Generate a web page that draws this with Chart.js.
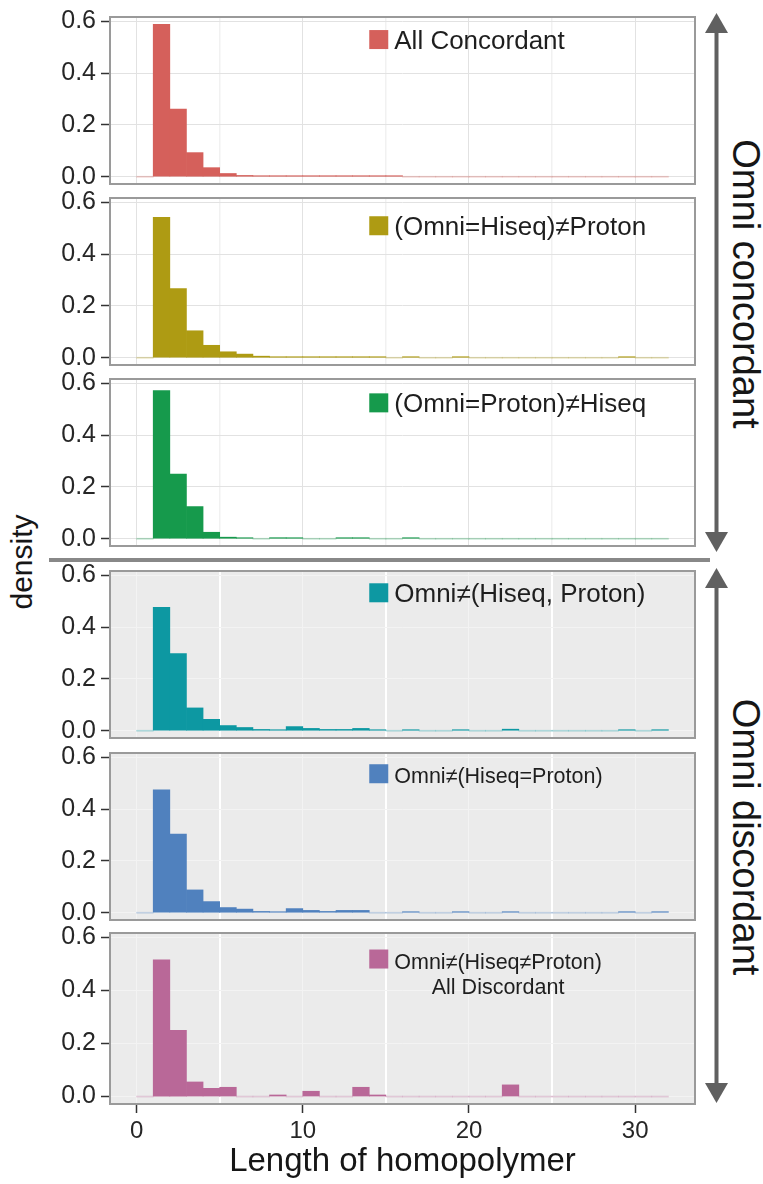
<!DOCTYPE html>
<html lang="en">
<head>
<meta charset="UTF-8">
<title>Length of homopolymer - density by concordance class</title>
<script src="https://cdn.jsdelivr.net/npm/chart.js"></script>
<style>
  body { margin: 0; background: #fff; font-family: "Liberation Sans", Arial, sans-serif; }
  #wrap { position: relative; width: 763px; height: 1184px; overflow: hidden; }
  #wrap canvas { position: absolute; left: 0; }
  .side { position: absolute; white-space: nowrap; line-height: 1; color: #161616;
          transform: translate(-50%, -50%) rotate(90deg); }
  #ylab { position: absolute; left: 22px; top: 562px; font-size: 30px; line-height: 1; color: #161616;
          white-space: nowrap; transform: translate(-50%, -50%) rotate(-90deg); }
  #sep { position: absolute; left: 49px; top: 558px; width: 661px; height: 4px; background: #888; }
  svg { position: absolute; left: 0; top: 0; }
</style>
</head>
<body>
<div id="wrap">
  <div id="sep"></div>
  <svg width="763" height="1184">
    <g fill="#606060" stroke="#606060">
      <line x1="716.5" y1="30" x2="716.5" y2="536" stroke-width="4"/>
      <polygon points="716.5,13 705,33 728,33" stroke="none"/>
      <polygon points="716.5,552 705,532 728,532" stroke="none"/>
      <line x1="716.5" y1="585" x2="716.5" y2="1087" stroke-width="4"/>
      <polygon points="716.5,568 705,588 728,588" stroke="none"/>
      <polygon points="716.5,1103 705,1083 728,1083" stroke="none"/>
    </g>
  </svg>
  <div class="side" style="left:746px; top:284px; font-size:38px;">Omni concordant</div>
  <div class="side" style="left:746px; top:837px; font-size:38px;">Omni discordant</div>
  <div id="ylab">density</div>
</div>

<script>
    // histogram bins: left edge of each 1-wide bin
    const binLeft = [0, 1, 2, 3, 4, 5, 6, 7, 8, 9, 10, 11, 12, 13, 14, 15,
                     16, 17, 18, 19, 20, 21, 22, 23, 24, 25, 26, 27, 28, 29, 30, 31];

    // density per bin, one array per facet
    const allConcordant = [0, 0.588, 0.261, 0.093, 0.035, 0.0125, 0.005, 0.002, 0.001, 0.001, 0.0008, 0.0006, 0.0005, 0.0004, 0.0003, 0.0003,
                           0, 0, 0, 0, 0, 0, 0, 0, 0, 0, 0, 0, 0, 0, 0, 0];
    const omniHiseqVsProton = [0, 0.541, 0.267, 0.104, 0.048, 0.023, 0.014, 0.006, 0.0025, 0.002, 0.0015, 0.001, 0.001, 0.001, 0.001, 0,
                               0.001, 0, 0, 0.001, 0, 0, 0, 0, 0, 0, 0, 0, 0, 0.001, 0, 0];
    const omniProtonVsHiseq = [0, 0.571, 0.249, 0.124, 0.025, 0.006, 0.003, 0, 0.004, 0.001, 0, 0, 0.001, 0.001, 0, 0,
                               0.001, 0, 0, 0, 0, 0, 0, 0, 0, 0, 0, 0, 0, 0, 0, 0];
    const omniVsBoth = [0, 0.476, 0.298, 0.088, 0.044, 0.02, 0.0125, 0.005, 0.0015, 0.016, 0.009, 0.005, 0.005, 0.009, 0.0015, 0,
                        0.002, 0, 0, 0.002, 0, 0, 0.006, 0, 0, 0, 0, 0, 0, 0.002, 0, 0.002];
    const omniVsAgree = [0, 0.474, 0.303, 0.088, 0.043, 0.02, 0.014, 0.005, 0.0015, 0.016, 0.009, 0.005, 0.009, 0.009, 0, 0,
                         0.002, 0, 0, 0.002, 0, 0, 0.002, 0, 0, 0, 0, 0, 0, 0.002, 0, 0.002];
    const allDiscordant = [0, 0.515, 0.249, 0.055, 0.031, 0.035, 0, 0, 0.006, 0, 0.02, 0, 0, 0.035, 0.006, 0,
                           0, 0, 0, 0, 0, 0, 0.044, 0, 0, 0, 0, 0, 0, 0, 0, 0];

    const seriesList = [allConcordant, omniHiseqVsProton, omniProtonVsHiseq, omniVsBoth, omniVsAgree, allDiscordant];
    const seriesNames = [
        ['All Concordant'],
        ['(Omni=Hiseq)≠Proton'],
        ['(Omni=Proton)≠Hiseq'],
        ['Omni≠(Hiseq, Proton)'],
        ['Omni≠(Hiseq=Proton)'],
        ['Omni≠(Hiseq≠Proton)', 'All Discordant']
    ];
    const seriesColors = ['#d5605b', '#ae9b13', '#169a4c', '#0d98a2', '#5081be', '#b96898'];
    const faintColors = ['rgba(213,96,91,0.3)', 'rgba(174,155,19,0.3)', 'rgba(22,154,76,0.3)',
                         'rgba(13,152,162,0.3)', 'rgba(80,129,190,0.3)', 'rgba(185,104,152,0.3)'];

    // tick values (major ones get labels)
    const xTicks = [0, 5, 10, 15, 20, 25, 30];
    const xMajor = [0, 10, 20, 30];
    const yTicks = [0, 0.1, 0.2, 0.3, 0.4, 0.5, 0.6];
    const yMajor = [0, 0.2, 0.4, 0.6];

    // layout of the facets
    const panelTop = [17, 198, 379, 571, 753, 933];
    const panelH = 171;
    const padTop = 24;
    const legendY = [0.529, 0.509, 0.524, 0.532, 0.536, 0.518];
    const legendSize = [26, 26, 26, 26, 21.5, 21.5];

    Chart.defaults.font.family = '"Liberation Sans", Arial, sans-serif';

    // panel background, border and the little key inside each facet
    const panelDeco = {
        id: 'panelDeco',
        beforeDraw(chart, args, o) {
            const a = chart.chartArea, ctx = chart.ctx;
            ctx.save();
            ctx.fillStyle = o.bg;
            ctx.fillRect(a.left, a.top, a.width, a.height);
            ctx.restore();
        },
        afterDraw(chart, args, o) {
            const a = chart.chartArea, ctx = chart.ctx;
            ctx.save();
            ctx.strokeStyle = '#9a9a9a';
            ctx.lineWidth = 2;
            ctx.strokeRect(a.left, a.top, a.width, a.height);

            const x = chart.scales.x.getPixelForValue(14);
            const yc = chart.scales.y.getPixelForValue(o.keyY);
            ctx.fillStyle = o.color;
            ctx.fillRect(x, yc - 9.5, 19, 19);
            ctx.font = o.size + 'px "Liberation Sans", Arial, sans-serif';
            ctx.fillStyle = '#1e1e1e';
            ctx.textBaseline = 'alphabetic';
            ctx.fillText(o.lines[0], x + 25, yc + 9.5);
            if (o.lines[1]) {
                const w = ctx.measureText(o.lines[0]).width;
                ctx.textAlign = 'center';
                ctx.fillText(o.lines[1], x + 25 + w / 2, yc + 9.5 + 25);
            }
            ctx.restore();
        }
    };

    const wrap = document.getElementById('wrap');

    function makePanel(i) {
        const last = i === seriesList.length - 1;
        const gray = i >= 3;
        const h = padTop + panelH + (last ? 80 : 16);
        const canvas = document.createElement('canvas');
        canvas.width = 763;
        canvas.height = h;
        canvas.style.top = (panelTop[i] - padTop) + 'px';
        wrap.appendChild(canvas);

        const majorColor = gray ? '#f3f3f3' : '#e2e2e2';
        const minorColor = gray ? '#ffffff' : '#f1f1f1';
        const minorWidth = gray ? 2 : 1.5;

        new Chart(canvas, {
            type: 'bar',
            data: {
                datasets: [{
                    label: seriesNames[i].join(' '),
                    data: binLeft.map((b, k) => ({ x: b + 0.5, y: seriesList[i][k] })),
                    backgroundColor: c => (c.raw && c.raw.y === 0) ? faintColors[i] : seriesColors[i],
                    borderWidth: 0,
                    barPercentage: 1,
                    categoryPercentage: 1,
                    minBarLength: 1
                }]
            },
            options: {
                responsive: false,
                animation: false,
                events: [],
                layout: { padding: { top: padTop, right: 68, bottom: last ? 0 : 16, left: 0 } },
                plugins: {
                    legend: { display: false },
                    tooltip: { enabled: false },
                    panelDeco: {
                        bg: gray ? '#ebebeb' : '#ffffff',
                        color: seriesColors[i],
                        lines: seriesNames[i],
                        keyY: legendY[i],
                        size: legendSize[i]
                    }
                },
                scales: {
                    x: {
                        type: 'linear',
                        min: -1.6,
                        max: 33.6,
                        offset: false,
                        afterBuildTicks: s => { s.ticks = xTicks.map(v => ({ value: v })); },
                        afterFit: s => { s.height = last ? 80 : 0; },
                        border: { display: false },
                        grid: {
                            offset: false,
                            drawTicks: last,
                            tickLength: 9,
                            tickWidth: 1.5,
                            tickColor: c => (c.tick && xMajor.includes(c.tick.value)) ? '#333' : 'rgba(0,0,0,0)',
                            color: c => (c.tick && xMajor.includes(c.tick.value)) ? majorColor : minorColor,
                            lineWidth: c => (c.tick && xMajor.includes(c.tick.value)) ? 1 : minorWidth
                        },
                        ticks: {
                            display: last,
                            autoSkip: false,
                            maxRotation: 0,
                            padding: 4,
                            color: '#262626',
                            font: { size: 24 },
                            callback: v => xMajor.includes(v) ? String(v) : ''
                        },
                        title: {
                            display: last,
                            text: 'Length of homopolymer',
                            color: '#161616',
                            font: { size: 33 },
                            padding: { top: 0, bottom: 2 }
                        }
                    },
                    y: {
                        min: -0.028,
                        max: 0.616,
                        afterBuildTicks: s => { s.ticks = yTicks.map(v => ({ value: v })); },
                        afterFit: s => { s.width = 110; },
                        border: { display: false },
                        grid: {
                            tickLength: 9,
                            tickWidth: 1.5,
                            tickColor: c => (c.tick && yMajor.includes(c.tick.value)) ? '#333' : 'rgba(0,0,0,0)',
                            color: c => (c.tick && yMajor.includes(c.tick.value)) ? majorColor : minorColor,
                            lineWidth: c => (c.tick && yMajor.includes(c.tick.value)) ? 1 : minorWidth
                        },
                        ticks: {
                            padding: 5,
                            color: '#262626',
                            font: { size: 25 },
                            callback: v => yMajor.includes(v) ? v.toFixed(1) : ''
                        }
                    }
                }
            },
            plugins: [panelDeco]
        });
    }

    for (let i = 0; i < seriesList.length; i++) {
        makePanel(i);
    }
</script>
</body>
</html>
